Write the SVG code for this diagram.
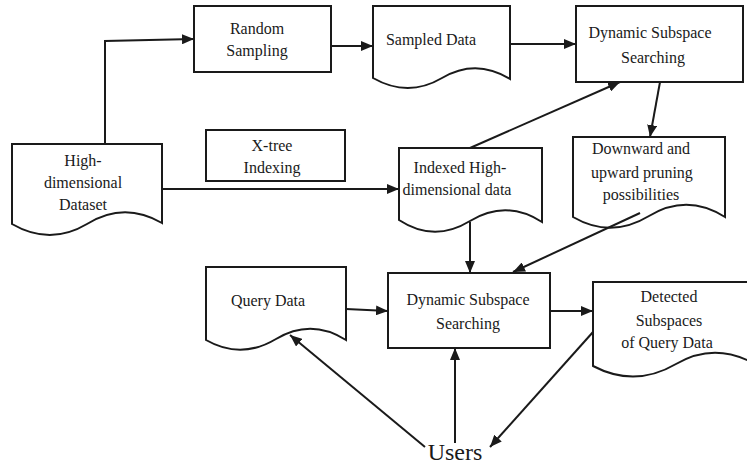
<svg xmlns="http://www.w3.org/2000/svg" width="747" height="466" viewBox="0 0 747 466">
  <style>
    .box { fill: #fff; stroke: #1a1a1a; stroke-width: 2; }
    .lbl { font-family: "Liberation Serif", "Times New Roman", serif; font-size: 16px; fill: #1a1a1a; text-anchor: middle; }
    .big { font-size: 24px; }
    .edge { fill: none; stroke: #1a1a1a; stroke-width: 2; marker-end: url(#ah); }
  </style>
  <defs>
    <marker id="ah" viewBox="0 0 12 10" refX="12" refY="5" markerWidth="12" markerHeight="10" markerUnits="userSpaceOnUse" orient="auto">
      <path d="M0,0 L12,5 L0,10 Z" fill="#1a1a1a"/>
    </marker>
  </defs>

  <g id="dataset">
    <path class="box" d="M12,144 H162 V223 Q124,201 87,224 Q50,246 12,224 Z"/>
    <text class="lbl" x="83" y="166">High-</text>
    <text class="lbl" x="83" y="188">dimensional</text>
    <text class="lbl" x="83" y="210">Dataset</text>
  </g>

  <g id="random-sampling">
    <rect class="box" x="194" y="6" width="137" height="66"/>
    <text class="lbl" x="257" y="34">Random</text>
    <text class="lbl" x="257" y="56">Sampling</text>
  </g>

  <g id="xtree">
    <rect class="box" x="206" y="130" width="139" height="51"/>
    <text class="lbl" x="272" y="151">X-tree</text>
    <text class="lbl" x="272" y="173">Indexing</text>
  </g>

  <g id="sampled-data">
    <path class="box" d="M373,6 H510 V79 Q476,58 442,78 Q408,98 373,78 Z"/>
    <text class="lbl" x="431" y="45">Sampled Data</text>
  </g>

  <g id="dss-top">
    <rect class="box" x="576" y="6" width="167" height="76"/>
    <text class="lbl" x="650" y="38">Dynamic Subspace</text>
    <text class="lbl" x="653" y="63">Searching</text>
  </g>

  <g id="indexed">
    <path class="box" d="M399,148 H542 V222 Q506,199 470,221 Q434,243 399,220 Z"/>
    <text class="lbl" x="460" y="173">Indexed High-</text>
    <text class="lbl" x="457" y="195">dimensional data</text>
  </g>

  <g id="pruning">
    <path class="box" d="M573,137 H725 V217 Q687,193 649,216 Q611,239 573,217 Z"/>
    <text class="lbl" x="641" y="154">Downward and</text>
    <text class="lbl" x="642" y="178">upward pruning</text>
    <text class="lbl" x="641" y="200">possibilities</text>
  </g>

  <g id="query-data">
    <path class="box" d="M206,267 H346 V340 Q311,318 276,339 Q241,360 206,340 Z"/>
    <text class="lbl" x="268" y="306">Query Data</text>
  </g>

  <g id="dss-bottom">
    <rect class="box" x="388" y="273" width="162" height="75"/>
    <text class="lbl" x="468" y="305">Dynamic Subspace</text>
    <text class="lbl" x="468" y="329">Searching</text>
  </g>

  <g id="detected">
    <path class="box" d="M593,282 H760 V367 Q717,340 676,364 Q635,388 593,366 Z"/>
    <text class="lbl" x="669" y="302">Detected</text>
    <text class="lbl" x="669" y="326">Subspaces</text>
    <text class="lbl" x="667" y="348">of Query Data</text>
  </g>

  <g id="users">
    <text class="lbl big" x="455" y="460">Users</text>
  </g>

  <g id="connectors">
    <path class="edge" d="M105,144 V41 L194,39"/>
    <path class="edge" d="M331,46 H373"/>
    <path class="edge" d="M510,44 H576"/>
    <path class="edge" d="M162,189 H399"/>
    <path class="edge" d="M470,148 L620,82"/>
    <path class="edge" d="M660,82 L650,137"/>
    <path class="edge" d="M470,222 V273"/>
    <path class="edge" d="M640,213 L513,272"/>
    <path class="edge" d="M346,309 L388,311"/>
    <path class="edge" d="M550,311 H593"/>
    <path class="edge" d="M455,443 V348"/>
    <path class="edge" d="M425,447 L290,335"/>
    <path class="edge" d="M593,332 L490,447"/>
  </g>
</svg>
